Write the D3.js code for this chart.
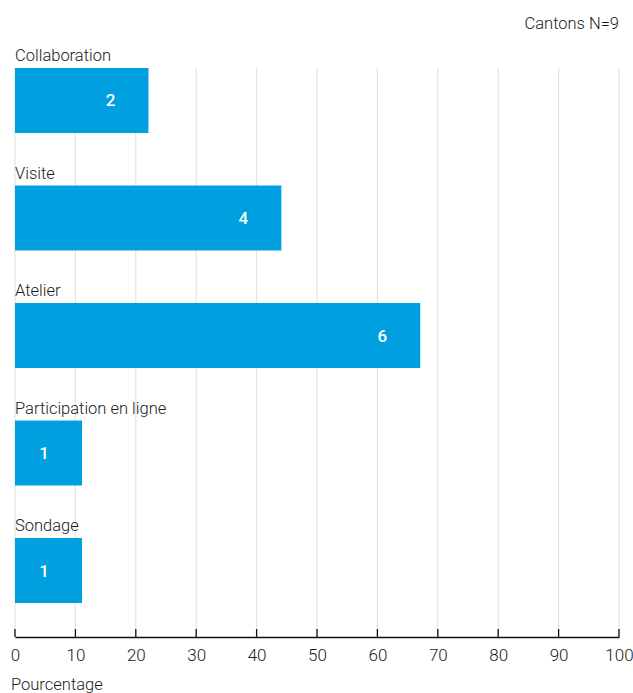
<!DOCTYPE html>
<html><head><meta charset="utf-8">
<script src="https://cdn.jsdelivr.net/npm/d3@7"></script>
<style>body{margin:0;background:#fff}svg{display:block;font-family:"Roboto","Liberation Sans",sans-serif}</style>
</head><body><svg id="c" width="633" height="693"></svg>
<script>
const categories = ["Collaboration","Visite","Atelier","Participation en ligne","Sondage"];
const percentages = [22.1, 44.1, 67.1, 11.1, 11.1];
const counts = [2, 4, 6, 1, 1];
const ticks = [0,10,20,30,40,50,60,70,80,90,100];
const note = "Cantons N=9";
const axisTitle = "Pourcentage";

const svg = d3.select("#c");
const x = d3.scaleLinear().domain([0,100]).range([15,619]);
const y = d3.scaleBand().domain(categories).range([68,603]).paddingInner(0.447).paddingOuter(0);
const axisY = 637;
const bh = y.bandwidth();

svg.append("g").selectAll("line").data(ticks).join("line")
  .attr("x1",d=>x(d)).attr("x2",d=>x(d)).attr("y1",68).attr("y2",axisY)
  .attr("stroke","#e3e3e3").attr("stroke-width",1.2);

const rows = categories.map((c,i)=>({c, p:percentages[i], n:counts[i]}));

svg.append("g").selectAll("rect").data(rows).join("rect")
  .attr("x",x(0)).attr("y",d=>y(d.c)).attr("width",d=>x(d.p)-x(0)).attr("height",bh)
  .attr("fill","#009fdf");

svg.append("g").selectAll("text").data(rows).join("text")
  .attr("x",x(0)).attr("y",d=>y(d.c)-7)
  .attr("font-size",16.5).attr("font-weight",300).attr("fill","#1a1a1a").text(d=>d.c);

svg.append("g").selectAll("text").data(rows).join("text")
  .attr("x",d=>x(d.p)-38).attr("y",d=>y(d.c)+bh/2+6)
  .attr("text-anchor","middle").attr("font-size",17).attr("font-weight",500)
  .attr("fill","#fff").text(d=>d.n);

const ax = svg.append("g").attr("transform",`translate(0,${axisY})`)
  .call(d3.axisBottom(x).tickValues(ticks).tickSize(0).tickPadding(12));
ax.select(".domain").attr("stroke","#111").attr("stroke-width",1.5);
ax.selectAll("text").attr("font-size",17).attr("font-weight",300).attr("fill","#1a1a1a").attr("font-family","Roboto, 'Liberation Sans', sans-serif");
svg.append("g").selectAll("line").data(ticks).join("line")
  .attr("x1",d=>x(d)).attr("x2",d=>x(d)).attr("y1",axisY-8).attr("y2",axisY)
  .attr("stroke","#111").attr("stroke-width",1.3);

svg.append("text").attr("x",x(0)-4).attr("y",690).attr("font-size",16.5).attr("font-weight",300).attr("fill","#1a1a1a").text(axisTitle);
svg.append("text").attr("x",619).attr("y",29).attr("text-anchor","end").attr("font-size",16.5).attr("font-weight",300).attr("fill","#1a1a1a").text(note);
</script></body></html>
